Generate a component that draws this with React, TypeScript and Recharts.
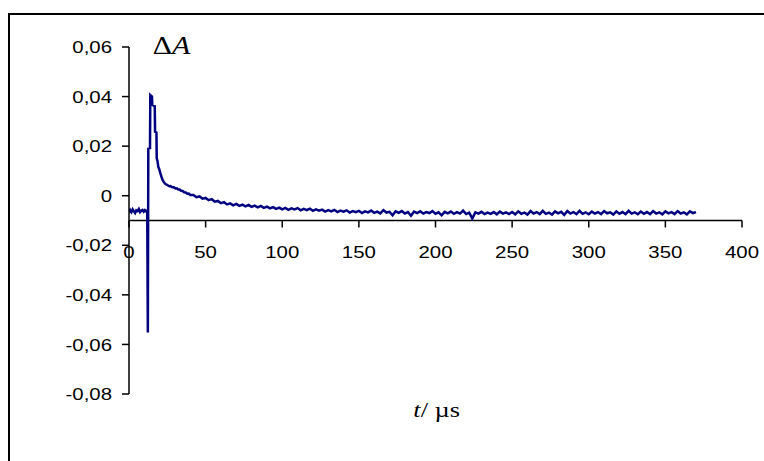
import React from "react";
import { LineChart, Line, XAxis, YAxis, ReferenceLine, ReferenceDot } from "recharts";

// [t (µs), ΔA]
const preTrigger: [number, number][] = [
  [0, -0.0068], [0.8, -0.0058], [1.6, -0.0066], [2.4, -0.0055], [3.2, -0.0063], [4, -0.007],
  [4.8, -0.0059], [5.6, -0.0062], [6.4, -0.0054], [7.2, -0.0066], [8, -0.006], [8.8, -0.0057],
  [9.6, -0.0064], [10.4, -0.0058], [11.2, -0.0063], [11.9, -0.006],
];

const pulse: [number, number][] = [
  [12.3, -0.0552], [12.6, 0.019], [13.7, 0.0192], [13.9, 0.0406], [15.0, 0.04], [15.2, 0.0366],
  [16.8, 0.0362], [17.0, 0.0258], [17.9, 0.0255], [18.1, 0.0151], [18.6, 0.014], [19.1, 0.0117],
  [19.7, 0.0108], [20.3, 0.0094], [20.9, 0.0082], [21.5, 0.007], [22.1, 0.0062], [22.7, 0.0055],
  [23.4, 0.005], [24.1, 0.0046], [24.8, 0.0044], [25.5, 0.0041], [26.3, 0.0038], [27.1, 0.0039],
  [27.9, 0.0035], [28.7, 0.0034], [29.5, 0.0033], [30.3, 0.0029], [31.2, 0.003], [32.1, 0.0025],
  [33, 0.0025], [34, 0.002], [35, 0.0019], [36, 0.0014], [37, 0.0013], [38, 0.0008],
  [39, 0.0009], [40, 0.0003],
];

const decay: [number, number][] = [
  [42, 0.0003], [44, -0.0006], [46, -0.0003], [48, -0.0012], [50, -0.0009], [52, -0.0018],
  [54, -0.0014], [56, -0.0024], [58, -0.0021], [60, -0.003], [62, -0.0026], [64, -0.0035],
  [66, -0.0031], [68, -0.0039], [70, -0.0033], [72, -0.0041], [74, -0.0036], [76, -0.0043],
  [78, -0.0037], [80, -0.0045], [82, -0.004], [84, -0.0047], [86, -0.0041], [88, -0.0049],
  [90, -0.0044], [92, -0.0051], [94, -0.0046], [96, -0.0053], [98, -0.0048], [100, -0.0055],
];

const tail: [number, number][] = [
  [102, -0.0049], [104, -0.0057], [106, -0.0051], [108, -0.0055], [110, -0.005], [112, -0.0059],
  [114, -0.0053], [116, -0.0058], [118, -0.0052], [120, -0.0061], [122, -0.0055], [124, -0.006],
  [126, -0.0056], [128, -0.0064], [130, -0.0058], [132, -0.0063], [134, -0.0057], [136, -0.0066],
  [138, -0.006], [140, -0.0064], [142, -0.0059], [144, -0.0068], [146, -0.0062], [148, -0.0066],
  [150, -0.0061], [152, -0.007], [154, -0.0063], [156, -0.0067], [158, -0.006], [160, -0.0069],
  [162, -0.0064], [164, -0.0071], [166, -0.0058], [168, -0.0068], [170, -0.0065], [172, -0.0079],
  [174, -0.0063], [176, -0.0069], [178, -0.0062], [180, -0.0072], [182, -0.0066], [184, -0.0081],
  [186, -0.0064], [188, -0.007], [190, -0.0063], [192, -0.0072], [194, -0.0066], [196, -0.007],
  [198, -0.0062], [200, -0.0073], [202, -0.0067], [204, -0.0079], [206, -0.0065], [208, -0.0071],
  [210, -0.0064], [212, -0.0073], [214, -0.0066], [216, -0.0072], [218, -0.006], [220, -0.0074],
  [222, -0.0068], [224, -0.0092], [226, -0.0067], [228, -0.0072], [230, -0.0065], [232, -0.0074],
  [234, -0.0068], [236, -0.0073], [238, -0.0066], [240, -0.0075], [242, -0.0064], [244, -0.0072],
  [246, -0.0067], [248, -0.0074], [250, -0.0066], [252, -0.0075], [254, -0.0063], [256, -0.0073],
  [258, -0.0068], [260, -0.0076], [262, -0.0062], [264, -0.0072], [266, -0.0066], [268, -0.0074],
  [270, -0.0061], [272, -0.0073], [274, -0.0068], [276, -0.0076], [278, -0.0063], [280, -0.0071],
  [282, -0.0065], [284, -0.0077], [286, -0.0062], [288, -0.0072], [290, -0.0066], [292, -0.0074],
  [294, -0.0061], [296, -0.0073], [298, -0.0067], [300, -0.0075], [302, -0.0064], [304, -0.0072],
  [306, -0.0066], [308, -0.0074], [310, -0.0062], [312, -0.0071], [314, -0.0067], [316, -0.0076],
  [318, -0.0063], [320, -0.0073], [322, -0.0066], [324, -0.0074], [326, -0.0061], [328, -0.0072],
  [330, -0.0067], [332, -0.0075], [334, -0.0064], [336, -0.0073], [338, -0.0066], [340, -0.0074],
  [342, -0.0062], [344, -0.0072], [346, -0.0067], [348, -0.0075], [350, -0.0063], [352, -0.0071],
  [354, -0.0066], [356, -0.0074], [358, -0.0062], [360, -0.0072], [362, -0.0067], [364, -0.0075],
  [366, -0.0063], [368, -0.007], [370, -0.0066],
];

const yTicks = [-0.08, -0.06, -0.04, -0.02, 0, 0.02, 0.04, 0.06];
const xTicks = [0, 50, 100, 150, 200, 250, 300, 350, 400];
const xAxisCrossing = -0.01;

const data = [...preTrigger, ...pulse, ...decay, ...tail].map(([t, dA]) => ({ t, dA }));

const FONT = "'Liberation Sans', Arial, sans-serif";
const SERIF = "'Liberation Serif', 'Times New Roman', serif";

const fmtY = (v: number) => (v === 0 ? "0" : v.toFixed(2).replace(".", ","));

const YTick = (props: any) => {
  const { x, y, payload } = props;
  return (
    <g transform={`translate(${x},${y})`}>
      <text x={0} y={0} dy="0.36em" textAnchor="end" transform="scale(1.2,1)"
        fontFamily={FONT} fontSize={17} fill="#000">
        {fmtY(payload.value)}
      </text>
    </g>
  );
};

const makeXTick = (label: string) => (props: any) => {
  const { cx, cy } = props;
  return (
    <g>
      <line x1={cx} y1={cy} x2={cx} y2={cy + 7} stroke="#000" strokeWidth={1.5} />
      <g transform={`translate(${cx},${cy + 31})`}>
        <text x={0} y={0} dy="0.36em" textAnchor="middle" transform="scale(1.2,1)"
          fontFamily={FONT} fontSize={17} fill="#000">
          {label}
        </text>
      </g>
    </g>
  );
};

export default function App() {
  return (
    <div style={{ position: "fixed", left: 0, top: 0, width: 764, height: 461, overflow: "hidden", background: "#fff" }}>
      <div style={{ position: "absolute", left: 8, top: 13, width: 754, height: 446, borderTop: "2px solid #000", borderLeft: "2px solid #000" }}>
        <LineChart width={754} height={446} data={data} margin={{ top: 32, right: 22, bottom: 67, left: 59 }}>
          <XAxis type="number" dataKey="t" domain={[0, 400]} ticks={xTicks} hide allowDataOverflow />
          <YAxis type="number" domain={[-0.08, 0.06]} ticks={yTicks} width={60} interval={0}
            axisLine={{ stroke: "#000", strokeWidth: 1.5 }} tickLine={{ stroke: "#000", strokeWidth: 1.5 }}
            tickSize={7} tickMargin={10} tick={<YTick />} allowDataOverflow />
          <ReferenceLine y={xAxisCrossing} stroke="#000" strokeWidth={1.5} ifOverflow="visible" />
          {xTicks.map((v) => (
            <ReferenceDot key={v} x={v} y={xAxisCrossing} ifOverflow="visible" shape={makeXTick(String(v))} />
          ))}
          <Line type="linear" dataKey="dA" stroke="#000080" strokeWidth={2.5} dot={false}
            isAnimationActive={false} />
        </LineChart>
        <svg width={754} height={446} style={{ position: "absolute", left: 0, top: 0, pointerEvents: "none" }}>
          <g transform="translate(142.7,39) scale(1.2,1)">
            <text x={0} y={0} fontFamily={SERIF} fontSize={25} fill="#000">
              <tspan>Δ</tspan><tspan fontStyle="italic">A</tspan>
            </text>
          </g>
          <g transform="translate(403.3,401.7) scale(1.2,1)">
            <text x={0} y={0} fontFamily={SERIF} fontSize={22} fill="#000">
              <tspan fontStyle="italic">t</tspan><tspan>/ µs</tspan>
            </text>
          </g>
        </svg>
      </div>
    </div>
  );
}
